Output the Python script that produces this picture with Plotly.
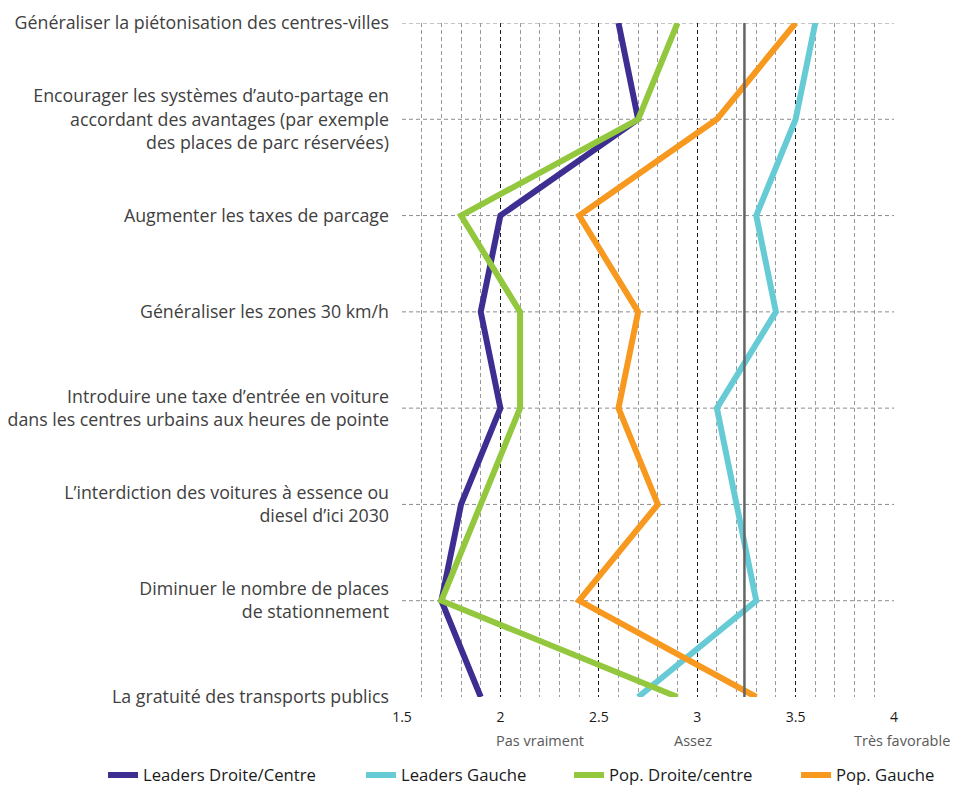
import plotly.graph_objects as go

# Mesures proposées (de haut en bas)
categories = [
    "Généraliser la piétonisation des centres-villes",
    "Encourager les systèmes d’auto-partage en<br>accordant des avantages (par exemple<br>des places de parc réservées)",
    "Augmenter les taxes de parcage",
    "Généraliser les zones 30 km/h",
    "Introduire une taxe d’entrée en voiture<br>dans les centres urbains aux heures de pointe",
    "L’interdiction des voitures à essence ou<br>diesel d’ici 2030",
    "Diminuer le nombre de places<br>de stationnement",
    "La gratuité des transports publics",
]

# Score moyen d'adhésion par groupe
leaders_droite = [2.6, 2.7, 2.0, 1.9, 2.0, 1.8, 1.7, 1.9]
leaders_gauche = [3.6, 3.5, 3.3, 3.4, 3.1, 3.2, 3.3, 2.7]
pop_droite = [2.9, 2.7, 1.8, 2.1, 2.1, 1.9, 1.7, 2.9]
pop_gauche = [3.5, 3.1, 2.4, 2.7, 2.6, 2.8, 2.4, 3.3]

series_names = ["Leaders Droite/Centre", "Leaders Gauche", "Pop. Droite/centre", "Pop. Gauche"]
series_values = [leaders_droite, leaders_gauche, pop_droite, pop_gauche]
series_colors = ["#3d2e92", "#67cbd6", "#93c83e", "#f7981f"]

# Moyenne de référence (ligne verticale)
reference_value = 3.24

# Échelle de l'axe et libellés qualitatifs
x_min, x_max = 1.5, 4.0
scale_labels = ["Pas vraiment", "Assez", "Très favorable"]
scale_positions = [2.2, 2.98, 4.04]

FONT = "'Open Sans', sans-serif"

# Une légende par série, placées côte à côte sous le graphique
legend_ids = ["legend", "legend2", "legend3", "legend4"]
legend_x = [0.1081, 0.3788, 0.5971, 0.8353]

fig = go.Figure()
for name, vals, col, lid in zip(series_names, series_values, series_colors, legend_ids):
    fig.add_trace(go.Scatter(
        x=vals, y=categories, mode="lines", name=name,
        line=dict(color=col, width=6),
        legend=lid,
    ))

# Lignes horizontales pointillées à chaque mesure (sauf la dernière)
for cat in categories[:-1]:
    fig.add_shape(type="line", xref="paper", x0=0, x1=1, yref="y", y0=cat, y1=cat,
                  line=dict(color="#8c8c8c", width=1, dash="4px,3px"), layer="below")

fig.add_shape(type="line", xref="x", x0=reference_value, x1=reference_value,
              yref="paper", y0=0, y1=1, line=dict(color="#646464", width=2.5))

# Libellés qualitatifs sous les graduations (en coordonnées papier pour
# rester visibles au-delà de la borne droite de l'axe)
for txt, pos in zip(scale_labels, scale_positions):
    fig.add_annotation(text=txt, x=(pos - x_min) / (x_max - x_min), xref="paper",
                       y=-0.064, yref="paper",
                       showarrow=False, xanchor="center", yanchor="middle",
                       font=dict(family=FONT, size=14.5, color="#595959"))

fig.update_xaxes(
    range=[x_min, x_max], tick0=x_min, dtick=0.5, showline=False, zeroline=False,
    showgrid=True, gridcolor="#1a1a1a", gridwidth=1, griddash="4px,3px",
    minor=dict(dtick=0.1, tick0=x_min, showgrid=True, gridcolor="#9a9a9a",
               gridwidth=1, griddash="4px,3px"),
    tickfont=dict(family=FONT, size=14, color="#1a1a1a"),
    ticklabelstandoff=10, automargin=False,
)
fig.update_yaxes(
    type="category", categoryorder="array", categoryarray=categories,
    range=[7, 0], showgrid=False, zeroline=False, showline=False,
    tickfont=dict(family=FONT, size=17.8, color="#404040"),
    ticklabelstandoff=12, automargin=False,
)

legend_style = dict(orientation="h", xref="container", yref="container",
                    xanchor="left", y=0.0127, yanchor="middle",
                    font=dict(family=FONT, size=16.7, color="#1a1a1a"),
                    bgcolor="rgba(0,0,0,0)")
layout_legends = {lid: dict(x=lx, **legend_style) for lid, lx in zip(legend_ids, legend_x)}

fig.update_layout(
    width=953, height=785,
    margin=dict(l=402, r=59, t=23, b=88),
    plot_bgcolor="white", paper_bgcolor="white",
    font=dict(family=FONT),
    showlegend=True,
    **layout_legends,
)

fig.write_html("out.html")
